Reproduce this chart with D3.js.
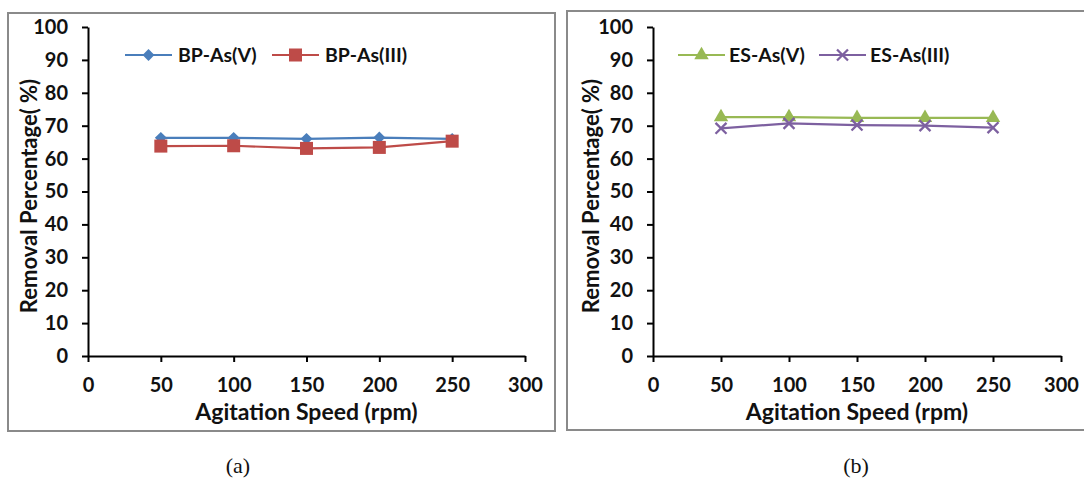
<!DOCTYPE html>
<html>
<head>
<meta charset="utf-8">
<script src="https://cdn.jsdelivr.net/npm/d3@7"></script>
<style>
  html, body { margin: 0; padding: 0; background: #fff; }
  svg { display: block; }
  text { font-family: Lato, "Open Sans", sans-serif; font-weight: bold; fill: #111; }
  .caption { font-family: "Liberation Serif", "Times New Roman", serif; font-weight: normal; }
</style>
</head>
<body>
<svg id="chart" width="1084" height="479"></svg>
<script>
// Agitation speed (rpm) at which removal was measured
const speeds = [50, 100, 150, 200, 250];

// Removal percentage, panel (a)
const bpAsV   = [66.3, 66.3, 66.0, 66.4, 66.0];
const bpAsIII = [63.8, 63.9, 63.1, 63.4, 65.3];

// Removal percentage, panel (b)
const esAsV   = [72.6, 72.6, 72.4, 72.4, 72.4];
const esAsIII = [69.2, 70.7, 70.2, 70.0, 69.4];

// Axis ticks
const xTicks = [0, 50, 100, 150, 200, 250, 300];
const yTicks = [0, 10, 20, 30, 40, 50, 60, 70, 80, 90, 100];

const xTitle = "Agitation Speed (rpm)";
const yTitle = "Removal Percentage( %)";

const svg = d3.select("#chart");

const panels = [
  {
    frame: { x: 8, y: 13, w: 547, h: 418 },
    plot:  { left: 88, right: 525, top: 27, bottom: 356 },
    yTitleX: 37,
    caption: "(a)", captionX: 238,
    legend: [125, 272], legendText: 53,
    series: [
      { name: "BP-As(V)",   values: bpAsV,   color: "#4A7EBB", marker: "diamond" },
      { name: "BP-As(III)", values: bpAsIII, color: "#BE4B48", marker: "square" }
    ]
  },
  {
    frame: { x: 567, y: 11, w: 530, h: 419 },
    plot:  { left: 653, right: 1061, top: 27, bottom: 356 },
    yTitleX: 599,
    caption: "(b)", captionX: 856,
    legend: [678, 819], legendText: 51,
    series: [
      { name: "ES-As(V)",   values: esAsV,   color: "#98B954", marker: "triangle" },
      { name: "ES-As(III)", values: esAsIII, color: "#7D60A0", marker: "cross" }
    ]
  }
];

function drawMarker(g, type, color, cx, cy) {
  if (type === "diamond") {
    g.append("path")
      .attr("d", d3.symbol(d3.symbolDiamond2, 90)())
      .attr("transform", `translate(${cx},${cy})`)
      .attr("fill", color);
  } else if (type === "square") {
    g.append("rect")
      .attr("x", cx - 6.5).attr("y", cy - 6.5)
      .attr("width", 13).attr("height", 13)
      .attr("fill", color);
  } else if (type === "triangle") {
    g.append("path")
      .attr("d", d3.symbol(d3.symbolTriangle, 90)())
      .attr("transform", `translate(${cx},${cy})`)
      .attr("fill", color);
  } else if (type === "cross") {
    g.append("path")
      .attr("d", d3.symbol(d3.symbolX, 80)())
      .attr("transform", `translate(${cx},${cy})`)
      .attr("fill", "none")
      .attr("stroke", color)
      .attr("stroke-width", 2.3);
  }
}

panels.forEach(p => {
  const g = svg.append("g");

  // panel frame
  g.append("rect")
    .attr("x", p.frame.x).attr("y", p.frame.y)
    .attr("width", p.frame.w).attr("height", p.frame.h)
    .attr("fill", "none")
    .attr("stroke", "#8a8a8a")
    .attr("stroke-width", 2);

  const x = d3.scaleLinear().domain([0, 300]).range([p.plot.left, p.plot.right]);
  const y = d3.scaleLinear().domain([0, 100]).range([p.plot.bottom, p.plot.top]);

  // y axis
  const yAxis = g.append("g")
    .attr("transform", `translate(${p.plot.left},0)`)
    .call(d3.axisLeft(y).tickValues(yTicks).tickSize(6).tickPadding(14).tickSizeOuter(0));
  // x axis
  const xAxis = g.append("g")
    .attr("transform", `translate(0,${p.plot.bottom})`)
    .call(d3.axisBottom(x).tickValues(xTicks).tickSize(6).tickPadding(16).tickSizeOuter(0));

  [yAxis, xAxis].forEach(a => {
    a.select(".domain").attr("stroke", "#000").attr("stroke-width", 2);
    a.selectAll(".tick line").attr("stroke", "#000").attr("stroke-width", 2);
    a.selectAll(".tick text")
      .attr("font-family", "Lato, sans-serif")
      .attr("font-weight", "bold")
      .attr("font-size", 20)
      .attr("fill", "#111");
  });

  // axis titles
  g.append("text")
    .attr("x", (p.plot.left + p.plot.right) / 2)
    .attr("y", 420)
    .attr("text-anchor", "middle")
    .attr("font-size", 23)
    .text(xTitle);

  g.append("text")
    .attr("transform", `translate(${p.yTitleX},196) rotate(-90)`)
    .attr("text-anchor", "middle")
    .attr("font-size", 22)
    .text(yTitle);

  // series lines and markers
  const line = d3.line()
    .x((d, i) => x(speeds[i]))
    .y(d => y(d));

  p.series.forEach(s => {
    g.append("path")
      .datum(s.values)
      .attr("d", line)
      .attr("fill", "none")
      .attr("stroke", s.color)
      .attr("stroke-width", 2.2);
  });
  p.series.forEach(s => {
    s.values.forEach((v, i) => drawMarker(g, s.marker, s.color, x(speeds[i]), y(v)));
  });

  // legend
  const ly = 55;
  p.series.forEach((s, k) => {
    const lx = p.legend[k];
    g.append("line")
      .attr("x1", lx).attr("x2", lx + 47)
      .attr("y1", ly).attr("y2", ly)
      .attr("stroke", s.color).attr("stroke-width", 2);
    drawMarker(g, s.marker, s.color, lx + 23.5, ly);
    g.append("text")
      .attr("x", lx + p.legendText)
      .attr("y", ly + 6.5)
      .attr("font-size", 19.5)
      .text(s.name);
  });

  // caption below the panel
  g.append("text")
    .attr("class", "caption")
    .attr("x", p.captionX)
    .attr("y", 473)
    .attr("text-anchor", "middle")
    .attr("font-size", 22)
    .text(p.caption);
});
</script>
</body>
</html>
